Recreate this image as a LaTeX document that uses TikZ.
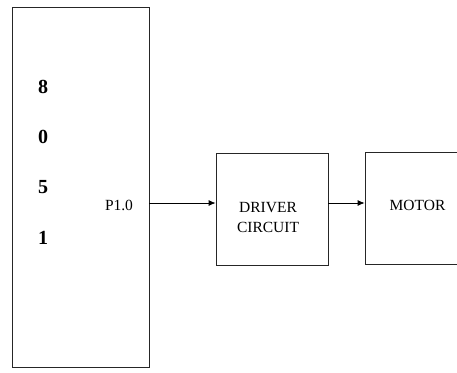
\documentclass[tikz,border=0pt]{standalone}
\usepackage{fontspec}
\setmainfont{Liberation Serif}
\usetikzlibrary{arrows.meta}

\tikzset{
  block/.style={draw=black!85, line width=0.8pt, fill=white, inner sep=0pt},
  digit/.style={font=\fontsize{20}{22}\selectfont\bfseries},
  lbl/.style={font=\fontsize{15.5}{20}\selectfont, align=center}
}

\begin{document}
\begin{tikzpicture}[>={Latex[length=7pt,width=6pt]}, x=1pt, y=-1pt]
  % Page frame
  \clip (0,0) rectangle (457,372);
  \fill[white] (0,0) rectangle (457,372);

  % Blocks
  \node[block, minimum width=137pt, minimum height=360pt] (mcu) at (80.5,187) {};
  \node[block, minimum width=112pt, minimum height=112pt] (driver) at (272,209) {};
  \node[block, minimum width=120pt, minimum height=112pt] (motor) at (425,208) {};

  % Chip name, one digit per line
  \foreach \d [count=\i] in {8,0,5,1}
    \node[digit] (d\i) at (43,36+50.5*\i) {\d};

  % Labels
  \node[lbl] (pin) at (119,205) {P1.0};
  \node[lbl] (drvtxt) at (268,217) {DRIVER\\CIRCUIT};
  \node[lbl] (mottxt) at (417.5,205) {MOTOR};

  % Signal path
  \coordinate (p10) at (149,203);
  \draw[->, line width=0.8pt] (p10) -- (p10 -| driver.west);
  \draw[->, line width=0.8pt] (p10 -| driver.east) -- (p10 -| motor.west);
\end{tikzpicture}
\end{document}
